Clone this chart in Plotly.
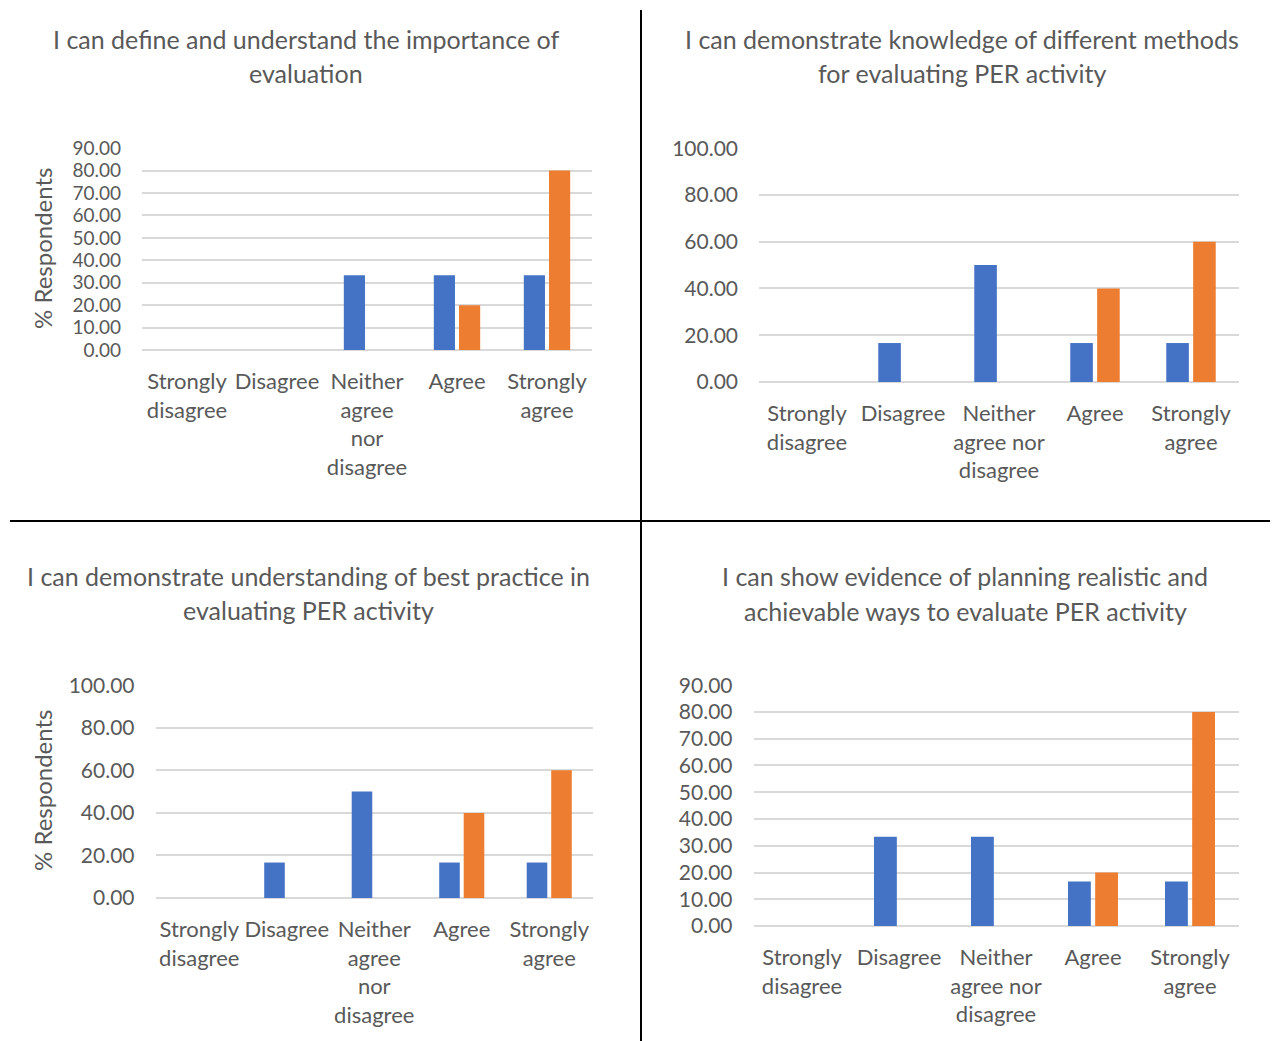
import plotly.graph_objects as go

# Response scale shared by all four questions
categories = ["Strongly disagree", "Disagree", "Neither agree nor disagree", "Agree", "Strongly agree"]
ticktext_narrow = ["Strongly<br>disagree", "Disagree", "Neither<br>agree<br>nor<br>disagree", "Agree", "Strongly<br>agree"]
ticktext_wide = ["Strongly<br>disagree", "Disagree", "Neither<br>agree nor<br>disagree", "Agree", "Strongly<br>agree"]

# % respondents per question (two survey groups)
q1_series1 = [0, 0, 33.33, 33.33, 33.33]
q1_series2 = [0, 0, 0, 20.00, 80.00]
q2_series1 = [0, 16.67, 50.00, 16.67, 16.67]
q2_series2 = [0, 0, 0, 40.00, 60.00]
q3_series1 = [0, 16.67, 50.00, 16.67, 16.67]
q3_series2 = [0, 0, 0, 40.00, 60.00]
q4_series1 = [0, 33.33, 33.33, 16.67, 16.67]
q4_series2 = [0, 0, 0, 20.00, 80.00]

titles = [
    ["I can define and understand the importance of", "evaluation"],
    ["I can demonstrate knowledge of different methods", "for evaluating PER activity"],
    ["I can demonstrate understanding of best practice in", "evaluating PER activity"],
    ["I can show evidence of planning realistic and", "achievable ways to evaluate PER activity"],
]
y_ranges = [(90, 10), (100, 20), (100, 20), (90, 10)]

W, H = 1275, 1041
BLUE = "#4472C4"
ORANGE = "#ED7D31"
TEXT = "#595959"
GRID = "#D9D9D9"
FONT = "Lato"

# plot-area boxes in pixels: left, right, top, bottom
boxes = [
    (142, 592, 148, 350),
    (759, 1239, 148, 382),
    (155.5, 593, 685, 898),
    (753.5, 1238.5, 685, 926),
]
title_pos = [(306, 39, 73), (962, 39, 73), (308, 576, 610), (965, 576, 611)]
ticktexts = [ticktext_narrow, ticktext_wide, ticktext_narrow, ticktext_wide]
ytick_sizes = [19, 21, 21, 21]  # the first chart has the tightest tick spacing

data = [
    (q1_series1, q1_series2),
    (q2_series1, q2_series2),
    (q3_series1, q3_series2),
    (q4_series1, q4_series2),
]

fig = go.Figure()
layout = dict(
    width=W, height=H,
    margin=dict(l=0, r=0, t=0, b=0, autoexpand=False),
    paper_bgcolor="white", plot_bgcolor="white",
    showlegend=False,
    barmode="group", bargap=0.44, bargroupgap=0.16,
    font=dict(family=FONT, color=TEXT),
)

annotations = []
shapes = []

for i, ((s1, s2), (l, r, t, b), (ymax, dt), tt, ysz, (tx, ty1, ty2), title) in enumerate(
        zip(data, boxes, y_ranges, ticktexts, ytick_sizes, title_pos, titles)):
    n = "" if i == 0 else str(i + 1)
    fig.add_trace(go.Bar(x=categories, y=s1, name="Series 1", marker=dict(color=BLUE, line=dict(width=0)),
                         xaxis="x" + n, yaxis="y" + n))
    fig.add_trace(go.Bar(x=categories, y=s2, name="Series 2", marker=dict(color=ORANGE, line=dict(width=0)),
                         xaxis="x" + n, yaxis="y" + n))
    layout["xaxis" + n] = dict(
        domain=[l / W, r / W], anchor="y" + n, automargin=False,
        tickmode="array", tickvals=categories, ticktext=tt,
        tickfont=dict(size=22, color=TEXT, family=FONT),
        showgrid=False, showline=False, zeroline=False, ticks="",
        ticklabelstandoff=16, fixedrange=True,
    )
    # tiny headroom so the top gridline is still drawn
    layout["yaxis" + n] = dict(
        domain=[1 - b / H, 1 - t / H], anchor="x" + n, automargin=False,
        range=[0, ymax * 1.001], dtick=dt, tick0=0, tickformat=".2f",
        tickfont=dict(size=ysz, color=TEXT, family=FONT),
        showgrid=True, gridcolor=GRID, gridwidth=2,
        zeroline=True, zerolinecolor=GRID, zerolinewidth=2,
        showline=False, ticks="", ticklabelstandoff=20, fixedrange=True,
    )
    for line, yy in zip(title, (ty1, ty2)):
        annotations.append(dict(
            text=line, x=tx / W, y=1 - yy / H, xref="paper", yref="paper",
            xanchor="center", yanchor="middle", showarrow=False,
            font=dict(size=25, color=TEXT, family=FONT),
        ))

# y-axis titles on the left-hand charts
for yy in (248, 790):
    annotations.append(dict(
        text="% Respondents", x=42 / W, y=1 - yy / H, xref="paper", yref="paper",
        xanchor="center", yanchor="middle", showarrow=False, textangle=-90,
        font=dict(size=24, color=TEXT, family=FONT),
    ))

# divider lines between the four panels
shapes.append(dict(type="line", xref="paper", yref="paper",
                   x0=641 / W, x1=641 / W, y0=1 - 10 / H, y1=0,
                   line=dict(color="black", width=2)))
shapes.append(dict(type="line", xref="paper", yref="paper",
                   x0=10 / W, x1=1270 / W, y0=1 - 521 / H, y1=1 - 521 / H,
                   line=dict(color="black", width=2)))

layout["annotations"] = annotations
layout["shapes"] = shapes
fig.update_layout(**layout)

fig.write_html("out.html")
